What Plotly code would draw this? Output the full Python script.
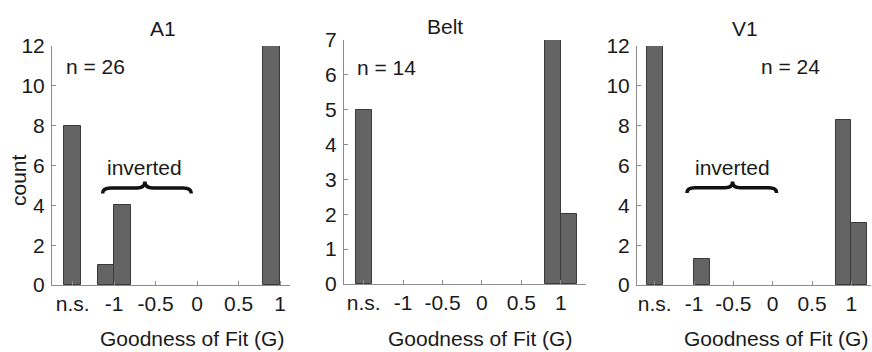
import plotly.graph_objects as go

W, H = 872, 352

# ---- data ----
panel_titles = ["A1", "Belt", "V1"]
n_labels = ["n = 26", "n = 14", "n = 24"]
bin_width = 0.2
a1_centers = [-1.5, -1.1, -0.9, 0.9]
a1_counts = [8, 1, 4, 12]
belt_centers = [-1.5, 0.9, 1.1]
belt_counts = [5, 7, 2]
v1_centers = [-1.5, -0.9, 0.9, 1.1]
v1_counts = [12, 1.33, 8.3, 3.1]
x_tickvals = [-1.5, -1, -0.5, 0, 0.5, 1]
x_ticktext = ["n.s.", "-1", "-0.5", "0", "0.5", "1"]
a1_yticks = [0, 2, 4, 6, 8, 10, 12]
belt_yticks = [0, 1, 2, 3, 4, 5, 6, 7]
v1_yticks = [0, 2, 4, 6, 8, 10, 12]

# ---- layout geometry (pixels) ----
px_x = [(52, 290), (344, 586), (637, 871)]
px_y = [(46, 285), (40, 284), (46, 285)]
x_ranges = [[-1.75, 1.12], [-1.75, 1.32], [-1.725, 1.25]]
y_ranges = [[0, 12], [0, 7], [0, 12]]
title_px = [(163, 28), (445, 27), (745, 28)]
xtitle_px = [192, 480, 776]
n_pos = [(-1.22, 10.95), (-1.21, 6.2), (0.23, 10.95)]
# inverted braces: (panel, x0, x1, xtip, y_end, y_mid, y_tip)
braces = [(0, -1.14, -0.07, -0.63, 4.6, 4.87, 5.2),
          (2, -1.09, 0.05, -0.51, 4.62, 4.88, 5.2)]

FONT = "Liberation Sans, Arial, sans-serif"
TXT = "#1a1a1a"
AX = "#8c8c8c"
BAR = "#646464"
EDGE = "#3a3a3a"
FS = 21

fig = go.Figure()
data = [(a1_centers, a1_counts), (belt_centers, belt_counts), (v1_centers, v1_counts)]
yticks = [a1_yticks, belt_yticks, v1_yticks]

layout = dict(width=W, height=H, margin=dict(l=0, r=0, t=0, b=0, autoexpand=False),
              paper_bgcolor="white", plot_bgcolor="white", showlegend=False,
              font=dict(family=FONT, size=FS, color=TXT), bargap=0)
annotations = []
shapes = []
for i in range(3):
    xa = "x" if i == 0 else f"x{i+1}"
    ya = "y" if i == 0 else f"y{i+1}"
    cx, cy = data[i]
    fig.add_trace(go.Bar(x=cx, y=cy, width=[bin_width] * len(cx), xaxis=xa, yaxis=ya,
                         marker=dict(color=BAR, line=dict(color=EDGE, width=1))))
    xdom = [px_x[i][0] / W, px_x[i][1] / W]
    ydom = [(H - px_y[i][1]) / H, (H - px_y[i][0]) / H]
    xk = "xaxis" if i == 0 else f"xaxis{i+1}"
    yk = "yaxis" if i == 0 else f"yaxis{i+1}"
    layout[xk] = dict(domain=xdom, range=x_ranges[i], anchor=ya, tickvals=x_tickvals,
                      ticktext=x_ticktext, ticks="inside", ticklen=4, tickcolor=AX,
                      showline=True, linecolor=AX, linewidth=1, showgrid=False,
                      zeroline=False, tickfont=dict(size=FS, color=TXT), fixedrange=True)
    layout[yk] = dict(domain=ydom, range=y_ranges[i], anchor=xa, tickvals=yticks[i],
                      ticks="inside", ticklen=4, tickcolor=AX, showline=True,
                      linecolor=AX, linewidth=1, showgrid=False, zeroline=False,
                      tickfont=dict(size=FS, color=TXT), fixedrange=True,
                      ticklabelstandoff=2)
    annotations.append(dict(text=panel_titles[i], x=title_px[i][0] / W,
                            y=1 - title_px[i][1] / H, xref="paper", yref="paper",
                            showarrow=False, font=dict(size=FS, color=TXT),
                            xanchor="center", yanchor="middle"))
    annotations.append(dict(text="Goodness of Fit (G)", x=xtitle_px[i] / W,
                            y=1 / H, xref="paper", yref="paper", borderpad=0,
                            showarrow=False, font=dict(size=FS, color=TXT),
                            xanchor="center", yanchor="bottom"))
    annotations.append(dict(text=n_labels[i], x=n_pos[i][0], y=n_pos[i][1],
                            xref=xa, yref=ya, showarrow=False,
                            font=dict(size=FS, color=TXT), xanchor="center",
                            yanchor="middle"))

for (p, x0, x1, xt, ye, ym, yt) in braces:
    xa = "x" if p == 0 else f"x{p+1}"
    ya = "y" if p == 0 else f"y{p+1}"
    d = 0.1
    path = (f"M {x0},{ye} Q {x0},{ym} {x0+d},{ym} L {xt-d},{ym} "
            f"Q {xt},{ym} {xt},{yt} Q {xt},{ym} {xt+d},{ym} "
            f"L {x1-d},{ym} Q {x1},{ym} {x1},{ye}")
    shapes.append(dict(type="path", path=path, xref=xa, yref=ya,
                       line=dict(color="#111111", width=3.5)))
    annotations.append(dict(text="inverted", x=xt, y=5.88, xref=xa, yref=ya,
                            showarrow=False, font=dict(size=FS, color=TXT),
                            xanchor="center", yanchor="middle"))

annotations.append(dict(text="count", x=18 / W, y=1 - 180 / H, xref="paper",
                        yref="paper", showarrow=False, textangle=-90,
                        font=dict(size=FS, color=TXT), xanchor="center",
                        yanchor="middle"))
layout["annotations"] = annotations
layout["shapes"] = shapes
fig.update_layout(**layout)
fig.write_html("out.html")
